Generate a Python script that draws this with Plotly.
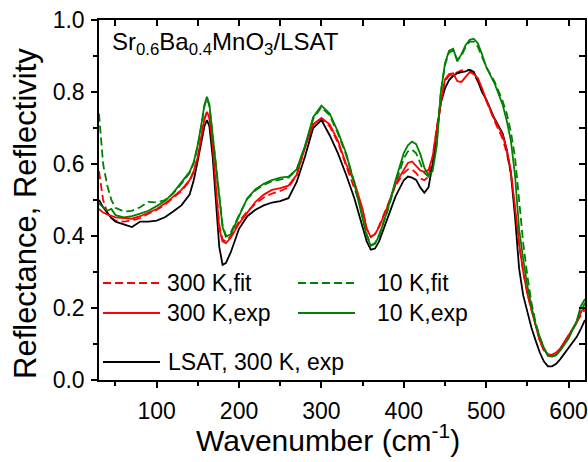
import plotly.graph_objects as go

# ---------------- data ----------------
wavenumber = [30, 35, 40, 45, 50, 60, 70, 80, 90, 100, 110, 120, 130, 140, 145, 150, 155, 158, 161, 164,
              168, 172, 176, 180, 184, 190, 200, 210, 220, 230, 240, 250, 260, 270, 280, 290, 300, 310,
              320, 330, 340, 350, 355, 360, 365, 370, 380, 390, 400, 405, 410, 415, 420, 425, 430, 435,
              440, 445, 450, 455, 460, 465, 470, 475, 480, 485, 490, 495, 500, 510, 520, 525, 530, 535,
              540, 545, 550, 555, 560, 565, 570, 575, 580, 585, 590, 600, 610, 615, 620]

lsat_300K_exp = [0.50, 0.48, 0.465, 0.45, 0.44, 0.432, 0.425, 0.44, 0.44, 0.443, 0.452, 0.468, 0.485, 0.515,
                 0.555, 0.61, 0.675, 0.705, 0.722, 0.705, 0.62, 0.50, 0.37, 0.32, 0.325, 0.355, 0.42, 0.455,
                 0.473, 0.485, 0.493, 0.497, 0.505, 0.55, 0.62, 0.70, 0.722, 0.68, 0.63, 0.57, 0.505, 0.425,
                 0.385, 0.362, 0.365, 0.385, 0.448, 0.51, 0.555, 0.565, 0.562, 0.556, 0.535, 0.52, 0.535, 0.60,
                 0.69, 0.77, 0.81, 0.833, 0.845, 0.852, 0.855, 0.857, 0.862, 0.856, 0.83, 0.80, 0.78, 0.727,
                 0.685, 0.64, 0.575, 0.455, 0.31, 0.235, 0.19, 0.145, 0.11, 0.077, 0.052, 0.038, 0.038, 0.045,
                 0.058, 0.088, 0.12, 0.142, 0.167]

k10_exp = [0.49, 0.48, 0.47, 0.475, 0.458, 0.452, 0.455, 0.462, 0.47, 0.483, 0.497, 0.52, 0.548, 0.578,
           0.605, 0.655, 0.72, 0.765, 0.787, 0.765, 0.68, 0.59, 0.50, 0.425, 0.398, 0.405, 0.455, 0.505,
           0.53, 0.545, 0.555, 0.562, 0.565, 0.585, 0.65, 0.73, 0.762, 0.74, 0.69, 0.63, 0.545, 0.45,
           0.40, 0.373, 0.378, 0.40, 0.47, 0.555, 0.63, 0.652, 0.662, 0.655, 0.628, 0.59, 0.568, 0.58,
           0.65, 0.80, 0.88, 0.915, 0.92, 0.885, 0.905, 0.93, 0.945, 0.948, 0.935, 0.905, 0.87, 0.825,
           0.765, 0.72, 0.665, 0.57, 0.42, 0.335, 0.262, 0.205, 0.155, 0.12, 0.09, 0.067, 0.065, 0.069,
           0.082, 0.115, 0.165, 0.205, 0.225]

k10_fit = [0.74, 0.60, 0.54, 0.50, 0.478, 0.468, 0.47, 0.48, 0.495, 0.493, 0.50, 0.518, 0.545, 0.575,
           0.602, 0.65, 0.715, 0.76, 0.782, 0.762, 0.68, 0.59, 0.50, 0.43, 0.40, 0.41, 0.458, 0.503,
           0.527, 0.542, 0.552, 0.558, 0.562, 0.583, 0.648, 0.725, 0.758, 0.735, 0.685, 0.625, 0.55, 0.455,
           0.405, 0.375, 0.38, 0.402, 0.468, 0.545, 0.615, 0.635, 0.64, 0.63, 0.605, 0.575, 0.565, 0.59,
           0.66, 0.80, 0.875, 0.91, 0.915, 0.89, 0.90, 0.925, 0.94, 0.94, 0.925, 0.90, 0.87, 0.83,
           0.775, 0.74, 0.69, 0.62, 0.50, 0.38, 0.29, 0.215, 0.16, 0.12, 0.09, 0.068, 0.066, 0.07,
           0.083, 0.118, 0.16, 0.19, 0.215]

k300_exp = [0.475, 0.465, 0.46, 0.455, 0.452, 0.45, 0.448, 0.455, 0.465, 0.475, 0.49, 0.51, 0.528, 0.555,
            0.58, 0.62, 0.69, 0.725, 0.745, 0.73, 0.65, 0.53, 0.42, 0.385, 0.38, 0.395, 0.435, 0.465,
            0.495, 0.515, 0.528, 0.533, 0.54, 0.57, 0.645, 0.71, 0.728, 0.71, 0.665, 0.60, 0.55, 0.475,
            0.42, 0.397, 0.405, 0.425, 0.48, 0.545, 0.585, 0.603, 0.607, 0.595, 0.582, 0.578, 0.583, 0.62,
            0.70, 0.77, 0.835, 0.85, 0.852, 0.83, 0.828, 0.843, 0.855, 0.85, 0.838, 0.81, 0.778, 0.725,
            0.68, 0.64, 0.58, 0.48, 0.38, 0.30, 0.24, 0.195, 0.15, 0.11, 0.085, 0.072, 0.07, 0.076,
            0.088, 0.125, 0.16, 0.19, 0.20]

k300_fit = [0.58, 0.50, 0.465, 0.45, 0.443, 0.44, 0.443, 0.45, 0.462, 0.472, 0.487, 0.505, 0.525, 0.552,
            0.578, 0.62, 0.69, 0.725, 0.742, 0.728, 0.65, 0.535, 0.43, 0.39, 0.385, 0.40, 0.44, 0.468,
            0.49, 0.507, 0.518, 0.525, 0.535, 0.568, 0.645, 0.71, 0.725, 0.705, 0.66, 0.595, 0.535, 0.47,
            0.42, 0.398, 0.405, 0.428, 0.483, 0.54, 0.575, 0.585, 0.585, 0.575, 0.56, 0.555, 0.565, 0.62,
            0.70, 0.775, 0.83, 0.845, 0.85, 0.855, 0.86, 0.862, 0.86, 0.848, 0.83, 0.805, 0.775, 0.72,
            0.67, 0.63, 0.575, 0.47, 0.375, 0.30, 0.24, 0.195, 0.15, 0.11, 0.082, 0.07, 0.068, 0.074,
            0.086, 0.125, 0.16, 0.18, 0.195]

legend_labels = ["300 K,fit", "300 K,exp", "10 K,fit", "10 K,exp", "LSAT, 300 K, exp"]
x_ticks = [100, 200, 300, 400, 500, 600]
y_ticks = [0.0, 0.2, 0.4, 0.6, 0.8, 1.0]

# ---------------- figure ----------------
RED = "#FF0000"
GREEN = "#008000"
BLACK = "#000000"
FONT = "Liberation Sans, Arial, sans-serif"
LW = 1.8
DASH = "8px,4px"

fig = go.Figure()
series = [
    (k300_fit, RED, DASH),
    (k10_fit, GREEN, DASH),
    (lsat_300K_exp, BLACK, "solid"),
    (k300_exp, RED, "solid"),
    (k10_exp, GREEN, "solid"),
]
for vals, col, dash in series:
    fig.add_trace(go.Scatter(x=wavenumber, y=vals, mode="lines",
                             line=dict(color=col, width=LW, dash=dash),
                             showlegend=False, hoverinfo="skip"))
# dummy trace for the mirrored (top/right) axes
fig.add_trace(go.Scatter(x=[None], y=[None], xaxis="x2", yaxis="y2", showlegend=False))

L, R_, T, B = 99, 3, 20, 82
W, H = 588, 462
pw, ph = W - L - R_, H - T - B

axis_common = dict(showline=True, linecolor="black", linewidth=1.5, showgrid=False, zeroline=False,
                   automargin=False)
fig.update_layout(
    width=W, height=H,
    autosize=False,
    showlegend=False,
    margin=dict(l=L, r=R_, t=T, b=B, pad=0, autoexpand=False),
    plot_bgcolor="white", paper_bgcolor="white",
    font=dict(family=FONT, color="black"),
    xaxis=dict(range=[30, 620], tickmode="array", tickvals=x_ticks, ticktext=[str(v) for v in x_ticks],
               ticks="outside", ticklen=6, tickwidth=1.5, tickcolor="black",
               tickfont=dict(size=23, family=FONT), ticklabelstandoff=4,
               minor=dict(tickvals=[50, 150, 250, 350, 450, 550], ticks="outside", ticklen=4,
                          tickwidth=1.5, tickcolor="black"),
               **axis_common),
    yaxis=dict(range=[0, 1.0], tickmode="array", tickvals=y_ticks, ticktext=[f"{v:.1f}" for v in y_ticks],
               ticks="outside", ticklen=6, tickwidth=1.5, tickcolor="black",
               tickfont=dict(size=23, family=FONT), ticklabelstandoff=2,
               minor=dict(tickvals=[0.1, 0.3, 0.5, 0.7, 0.9], ticks="outside", ticklen=4,
                          tickwidth=1.5, tickcolor="black"),
               **axis_common),
    xaxis2=dict(range=[30, 620], overlaying="x", side="top", anchor="y", tickmode="array",
                tickvals=[50, 100, 150, 200, 250, 300, 350, 400, 450, 500, 550, 600],
                ticks="inside", ticklen=6, tickwidth=1.5, tickcolor="black", showticklabels=False,
                **axis_common),
    yaxis2=dict(range=[0, 1.0], overlaying="y", side="right", anchor="x", tickmode="array",
                tickvals=[0.1, 0.2, 0.3, 0.4, 0.5, 0.6, 0.7, 0.8, 0.9],
                ticks="inside", ticklen=6, tickwidth=1.5, tickcolor="black", showticklabels=False,
                **axis_common),
)

def px_to_paper(px, py):
    return (px - L) / pw, (H - B - py) / ph

annotations = []
shapes = []

# axis titles
x0, y0 = px_to_paper(328, 438)
annotations.append(dict(text="Wavenumber (cm<sup>-1</sup>)", x=x0, y=y0, xref="paper", yref="paper",
                        xanchor="center", yanchor="middle", showarrow=False,
                        font=dict(size=30, family=FONT)))
x0, y0 = px_to_paper(25, 214)
annotations.append(dict(text="Reflectance, Reflectivity", x=x0, y=y0, xref="paper", yref="paper",
                        xanchor="center", yanchor="middle", textangle=-90, showarrow=False,
                        font=dict(size=31, family=FONT)))
# sample label
x0, y0 = px_to_paper(110, 44)
annotations.append(dict(text="Sr<sub>0.6</sub>Ba<sub>0.4</sub>MnO<sub>3</sub>/LSAT", x=x0, y=y0,
                        xref="paper", yref="paper", xanchor="left", yanchor="middle", showarrow=False,
                        font=dict(size=24, family=FONT)))

# manual legend
legend_items = [
    (legend_labels[0], RED, DASH, 103, 160, 165, 283),
    (legend_labels[1], RED, "solid", 103, 160, 165, 313),
    (legend_labels[2], GREEN, DASH, 298, 355, 375, 283),
    (legend_labels[3], GREEN, "solid", 298, 355, 375, 313),
    (legend_labels[4], BLACK, "solid", 103, 160, 166, 362),
]
for lab, col, dash, lx0, lx1, tx, ty in legend_items:
    a0, b0 = px_to_paper(lx0, ty)
    a1, _ = px_to_paper(lx1, ty)
    shapes.append(dict(type="line", xref="paper", yref="paper", x0=a0, x1=a1, y0=b0, y1=b0,
                       line=dict(color=col, width=LW, dash=dash)))
    t0, _ = px_to_paper(tx, ty)
    annotations.append(dict(text=lab, x=t0, y=b0, xref="paper", yref="paper", xanchor="left",
                            yanchor="middle", showarrow=False, font=dict(size=23, family=FONT)))

fig.update_layout(annotations=annotations, shapes=shapes)
fig.write_html("out.html")
